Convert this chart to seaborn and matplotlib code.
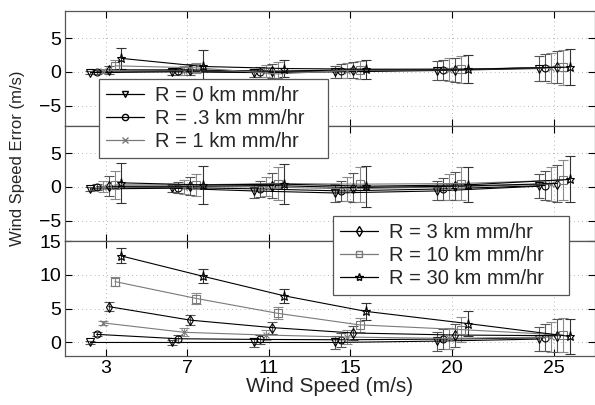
import numpy as np
import pandas as pd
import matplotlib
matplotlib.use("Agg")
import matplotlib.pyplot as plt
import seaborn as sns
from matplotlib.lines import Line2D

# ---------------- data ----------------
wind_speeds = [3, 7, 11, 15, 20, 25]
xtick_labels = ["3", "7", "11", "15", "20", "25"]
series_labels = ["R = 0 km mm/hr", "R = .3 km mm/hr", "R = 1 km mm/hr",
                 "R = 3 km mm/hr", "R = 10 km mm/hr", "R = 30 km mm/hr"]
# small horizontal offsets of each series around the nominal wind speed
offsets = [-0.75, -0.45, -0.15, 0.15, 0.45, 0.75]

# top panel: mean error per series (rows) per wind speed (cols)
top_mean = [
    [-0.1, 0.0, -0.1, 0.0, 0.2, 0.5],
    [0.0, 0.1, 0.0, 0.1, 0.3, 0.6],
    [0.1, 0.2, 0.1, 0.2, 0.3, 0.6],
    [0.3, 0.3, 0.1, 0.3, 0.3, 0.7],
    [0.9, 0.6, -0.3, 0.3, 0.4, 0.7],
    [2.0, 0.8, 0.5, 0.4, 0.4, 0.7],
]
top_err = [
    [0.2, 0.4, 0.6, 0.9, 1.4, 1.8],
    [0.3, 0.5, 0.7, 1.0, 1.5, 2.0],
    [0.3, 0.6, 0.9, 1.1, 1.7, 2.2],
    [0.6, 0.8, 1.0, 1.2, 1.8, 2.4],
    [0.9, 0.7, 1.8, 1.3, 2.0, 2.6],
    [1.6, 2.4, 1.2, 1.4, 2.1, 2.7],
]

# middle panel
mid_mean = [
    [-0.3, -0.2, -0.6, -0.9, -0.6, 0.1],
    [0.0, -0.1, -0.3, -0.6, -0.3, 0.2],
    [0.0, 0.0, 0.0, -0.3, 0.0, 0.4],
    [0.1, 0.1, 0.2, -0.1, 0.1, 0.5],
    [0.3, 0.3, 0.5, 0.4, 0.5, 1.0],
    [0.6, 0.3, 0.4, 0.1, 0.3, 1.1],
]
mid_err = [
    [0.3, 0.5, 1.0, 1.3, 1.4, 1.8],
    [0.5, 0.8, 1.2, 1.5, 1.6, 2.2],
    [0.8, 1.0, 1.4, 1.8, 1.9, 2.5],
    [1.5, 1.3, 1.8, 2.2, 2.1, 2.8],
    [2.1, 1.6, 2.4, 2.6, 2.4, 3.0],
    [3.0, 2.8, 3.0, 3.0, 2.6, 3.4],
]

# bottom panel
bot_mean = [
    [0.0, 0.0, 0.0, 0.0, 0.2, 0.5],
    [1.2, 0.55, 0.45, 0.4, 0.5, 0.7],
    [2.9, 1.5, 1.1, 0.8, 0.6, 0.8],
    [5.3, 3.3, 2.2, 1.4, 1.1, 1.0],
    [9.0, 6.5, 4.3, 2.6, 1.9, 1.1],
    [12.8, 9.8, 6.9, 4.6, 2.8, 0.9],
]
bot_err = [
    [0.2, 0.4, 0.6, 0.9, 1.4, 1.8],
    [0.3, 0.5, 0.7, 1.0, 1.5, 2.0],
    [0.3, 0.6, 0.8, 1.0, 1.6, 2.2],
    [0.7, 0.7, 0.9, 1.0, 1.7, 2.4],
    [0.7, 0.8, 0.9, 1.0, 1.8, 2.5],
    [1.1, 1.0, 1.0, 1.3, 1.9, 2.6],
]

# ---------------- style ----------------
sns.set_theme(style="ticks")
plt.rcParams["font.family"] = ["Liberation Sans", "DejaVu Sans"]

markers = ["v", "o", "x", "d", "s", "*"]
colors = ["black", "black", "#7a7a7a", "black", "#7a7a7a", "black"]
ecolors = ["#555555", "#555555", "#8a8a8a", "#555555", "#8a8a8a", "#333333"]
msizes = [5.5, 5, 4.5, 5.5, 5.5, 6.5]

fig = plt.figure(figsize=(5.95, 4.05), dpi=100)

left = 65 / 595
width = 530 / 595
panel_h = 115 / 405
tops = [11, 126, 241]
axes = []
for t in tops:
    bottom = 1 - (t + 115) / 405
    axes.append(fig.add_axes([left, bottom, width, panel_h]))

panels = [(top_mean, top_err), (mid_mean, mid_err), (bot_mean, bot_err)]
ylims = [(-8, 9), (-8, 9), (-2, 15)]
yticks = [[-5, 0, 5], [-5, 0, 5], [0, 5, 10, 15]]

for ax, (means, errs), ylim, yt in zip(axes, panels, ylims, yticks):
    for i in range(6):
        xs = [w + offsets[i] for w in wind_speeds]
        df = pd.DataFrame({"x": xs, "y": means[i]})
        sns.lineplot(data=df, x="x", y="y", ax=ax, color=colors[i],
                     marker=markers[i], markersize=msizes[i],
                     markerfacecolor="none", markeredgecolor=colors[i],
                     markeredgewidth=0.8, linewidth=0.8, sort=False,
                     estimator=None, zorder=3)
        ax.errorbar(xs, means[i], yerr=errs[i], fmt="none",
                    ecolor=ecolors[i], elinewidth=0.8, capsize=3.5,
                    capthick=0.8, zorder=2)
    ax.set_xlim(1, 27)
    ax.set_ylim(*ylim)
    ax.set_xticks(wind_speeds)
    ax.set_yticks(yt)
    ax.set_xlabel("")
    ax.set_ylabel("")
    ax.grid(True, linestyle=(0, (1, 4)), color="#a0a0a0", linewidth=0.6)
    ax.tick_params(direction="in", length=5, width=0.8, top=True,
                   right=True, labelsize=14, colors="black", pad=3)
    for sp in ax.spines.values():
        sp.set_visible(True)
        sp.set_color("#555555")
        sp.set_linewidth(0.9)
    if ax is not axes[-1]:
        ax.set_xticklabels([])
    else:
        ax.set_xticklabels(xtick_labels)

axes[-1].set_xlabel("Wind Speed (m/s)", fontsize=15, labelpad=0)
fig.text(18 / 595, 1 - 158 / 405, "Wind Speed Error (m/s)", rotation=90,
         ha="center", va="center", fontsize=12)

# legends (figure level so they sit above neighbouring panels)
def handles(idx):
    return [Line2D([], [], color=colors[i], marker=markers[i],
                   markersize=msizes[i] - 0.5, markerfacecolor="none",
                   markeredgecolor=colors[i], linewidth=0.9)
            for i in idx]

legend_kw = dict(loc="upper left", mode="expand", fontsize=14.5,
                 frameon=True, fancybox=False, edgecolor="#555555",
                 framealpha=1, handlelength=1.9, handletextpad=0.55,
                 labelspacing=0.2, borderpad=0.35, borderaxespad=0)

leg1 = fig.legend(handles([0, 1, 2]), series_labels[:3],
                  bbox_to_anchor=(99 / 595, 1 - 79 / 405, 229 / 595, 0.0),
                  bbox_transform=fig.transFigure, **legend_kw)
leg1.get_frame().set_linewidth(0.9)

leg2 = fig.legend(handles([3, 4, 5]), series_labels[3:],
                  bbox_to_anchor=(333 / 595, 1 - 216 / 405, 236 / 595, 0.0),
                  bbox_transform=fig.transFigure, **legend_kw)
leg2.get_frame().set_linewidth(0.9)

fig.savefig("out.png", dpi=100)
